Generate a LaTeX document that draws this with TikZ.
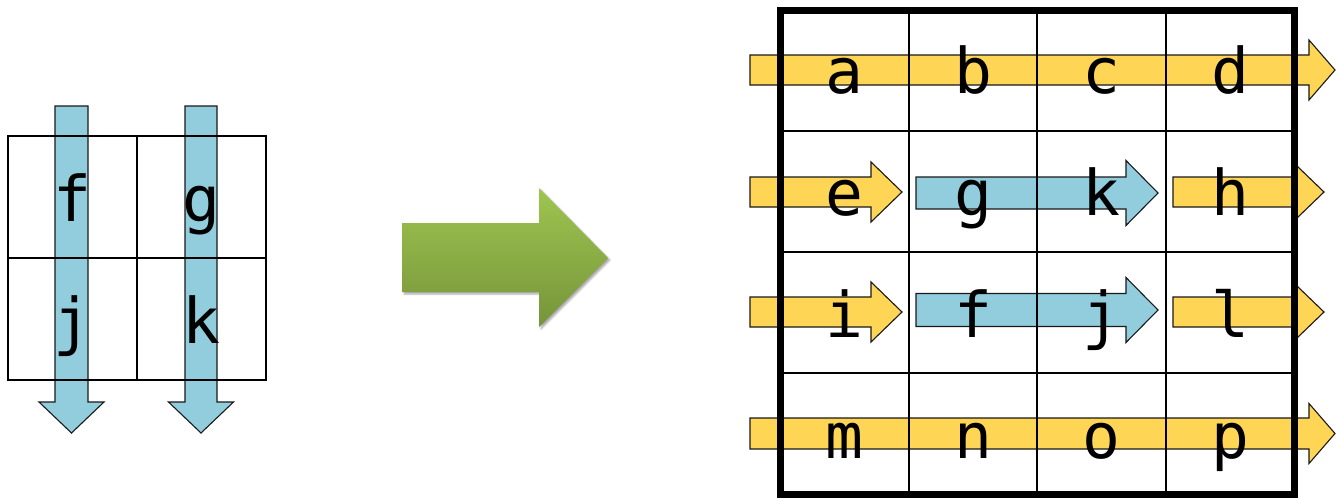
\documentclass[tikz,border=0pt]{standalone}
\usepackage{fontspec}
\setmonofont{DejaVu Sans Mono}
\usetikzlibrary{shadows.blur}

\definecolor{cellyellow}{RGB}{255,213,86}
\definecolor{cellblue}{RGB}{146,205,221}
\definecolor{greentop}{RGB}{158,197,80}
\definecolor{greenbot}{RGB}{118,148,58}

% block arrow pointing right: style, start x, head base x, tip x, centre y, shaft half, head half
\newcommand\blockarrowR[7]{%
  \draw[#1] (#2,#5-#6) -- (#3,#5-#6) -- (#3,#5-#7) -- (#4,#5)
    -- (#3,#5+#7) -- (#3,#5+#6) -- (#2,#5+#6) -- cycle;}
% block arrow pointing down: style, centre x, start y, head base y, tip y, shaft half, head half
\newcommand\blockarrowD{}
\renewcommand\blockarrowD[7]{%
  \draw[#1] (#2-#6,#3) -- (#2+#6,#3) -- (#2+#6,#4) -- (#2+#7,#4) -- (#2,#5)
    -- (#2-#7,#4) -- (#2-#6,#4) -- (#2-#6,#3) -- cycle;}

\tikzset{
  yellowarrow/.style={fill=cellyellow, draw=black!90, line width=1.1pt, line join=miter},
  bluearrow/.style={fill=cellblue, draw=black!90, line width=1.1pt, line join=miter},
  thingrid/.style={draw=black, line width=2pt},
  thickgrid/.style={draw=black, line width=7pt, line join=miter},
  smallgrid/.style={draw=black, line width=2.5pt},
  letter/.style={font=\ttfamily\fontsize{63}{63}\selectfont, anchor=base, inner sep=0pt}
}

\begin{document}
\begin{tikzpicture}[x=1pt, y=-1pt]
\useasboundingbox (0,0) rectangle (1336,498);

% ---------- small 2x2 grid with downward arrows ----------
\blockarrowD{bluearrow}{71.5}{106}{402}{433}{16.5}{32.5}
\blockarrowD{bluearrow}{201}{106}{402}{433}{16}{32.5}
\draw[smallgrid] (8,136) rectangle (266,380);
\draw[smallgrid] (137,136) -- (137,380);
\draw[smallgrid] (8,258) -- (266,258);
\node[letter] (sf) at (72,221) {f};
\node[letter] (sg) at (201,221) {g};
\node[letter] (sj) at (72,343) {j};
\node[letter] (sk) at (201,343) {k};

% ---------- transformation arrow ----------
\path[top color=greentop, bottom color=greenbot, draw=none,
      blur shadow={shadow xshift=2pt, shadow yshift=-2pt, shadow blur steps=6, shadow opacity=35}]
  (402,223) -- (539,223) -- (539,188) -- (608,258) -- (539,327) -- (539,292) -- (402,292) -- cycle;

% ---------- 4x4 grid with row arrows ----------
% row 1
\blockarrowR{yellowarrow}{750}{1309}{1335}{70}{15}{30}
% row 2
\blockarrowR{yellowarrow}{750}{871}{902}{192}{15}{30}
\blockarrowR{bluearrow}{916}{1126}{1158}{193}{16}{32.5}
\blockarrowR{yellowarrow}{1173}{1297}{1324}{192}{15}{26}
% row 3
\blockarrowR{yellowarrow}{750}{871}{902}{312}{15}{30}
\blockarrowR{bluearrow}{916}{1126}{1158}{310}{16.5}{32.5}
\blockarrowR{yellowarrow}{1173}{1297}{1324}{312}{15}{26}
% row 4
\blockarrowR{yellowarrow}{750}{1309}{1335}{433.5}{15.5}{30}

% grid lines
\foreach \gx in {908.5,1037,1165.5} \draw[thingrid] (\gx,10) -- (\gx,494);
\foreach \gy in {131,252,373} \draw[thingrid] (780,\gy) -- (1294,\gy);
\draw[thickgrid] (780,10) rectangle (1294,494);

% cell letters
\node[letter] (a) at (844,93) {a};
\node[letter] (b) at (973,93) {b};
\node[letter] (c) at (1101,93) {c};
\node[letter] (d) at (1230,93) {d};
\node[letter] (e) at (844,215) {e};
\node[letter] (g) at (973,215) {g};
\node[letter] (k) at (1101,215) {k};
\node[letter] (h) at (1230,215) {h};
\node[letter] (i) at (844,337) {i};
\node[letter] (f) at (973,337) {f};
\node[letter] (j) at (1101,337) {j};
\node[letter] (l) at (1230,337) {l};
\node[letter] (m) at (844,458) {m};
\node[letter] (n) at (973,458) {n};
\node[letter] (o) at (1101,458) {o};
\node[letter] (p) at (1230,458) {p};
\end{tikzpicture}
\end{document}
